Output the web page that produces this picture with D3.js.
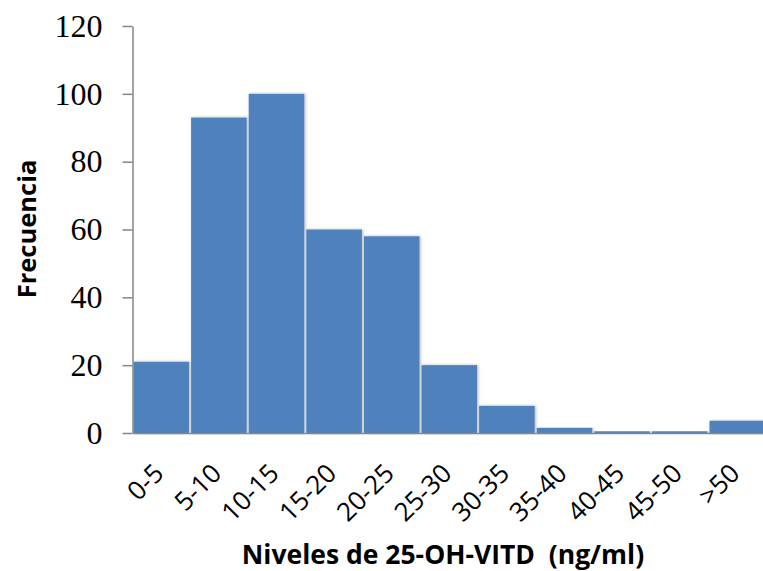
<!DOCTYPE html>
<html>
<head>
<meta charset="utf-8">
<script src="https://cdn.jsdelivr.net/npm/d3@7"></script>
<style>
  body { margin: 0; background: #fff; }
  .y.axis text { font-family: "Liberation Serif", serif; font-size: 32px; fill: #000; }
  .x.axis text { font-family: "Open Sans", sans-serif; font-size: 26px; fill: #000; }
  .axis path, .axis line { stroke: #868686; stroke-width: 1.5; }
  .label { font-family: "Open Sans", sans-serif; font-weight: bold; fill: #000; white-space: pre; }
</style>
</head>
<body>
<script>
var categories = ["0-5", "5-10", "10-15", "15-20", "20-25", "25-30", "30-35", "35-40", "40-45", "45-50", ">50"];
var frequencies = [21, 93, 100, 60, 58, 20, 8, 1.5, 0.5, 0.5, 3.6];
var yTicks = [0, 20, 40, 60, 80, 100, 120];

var width = 763, height = 571;
var plotLeft = 132.5, plotTop = 26, plotBottom = 433;
var step = 57.6;

var svg = d3.select("body").append("svg")
    .attr("width", width)
    .attr("height", height);

var defs = svg.append("defs");
var filter = defs.append("filter")
    .attr("id", "shadow")
    .attr("x", "-10%").attr("y", "-10%")
    .attr("width", "130%").attr("height", "130%");
filter.append("feDropShadow")
    .attr("dx", 1)
    .attr("dy", 0)
    .attr("stdDeviation", 1.5)
    .attr("flood-color", "#000")
    .attr("flood-opacity", 0.3);

var x = d3.scaleBand()
    .domain(categories)
    .range([plotLeft, plotLeft + step * categories.length])
    .paddingInner(0.035)
    .paddingOuter(0.0175);

var y = d3.scaleLinear()
    .domain([0, 120])
    .range([plotBottom, plotTop]);

svg.append("g")
    .selectAll("rect")
    .data(frequencies)
    .enter().append("rect")
    .attr("x", function(d, i) { return x(categories[i]); })
    .attr("y", function(d) { return y(d); })
    .attr("width", x.bandwidth())
    .attr("height", function(d) { return plotBottom - y(d); })
    .attr("fill", "#4f81bd")
    .attr("filter", "url(#shadow)");

var yAxis = d3.axisLeft(y)
    .tickValues(yTicks)
    .tickSize(10)
    .tickPadding(20)
    .tickSizeOuter(0);

svg.append("g")
    .attr("class", "y axis")
    .attr("transform", "translate(" + plotLeft + ",0)")
    .call(yAxis);

var xAxis = d3.axisBottom(x)
    .tickSize(0)
    .tickSizeOuter(0)
    .tickFormat("");

svg.append("g")
    .attr("class", "x axis")
    .attr("transform", "translate(0," + plotBottom + ")")
    .call(xAxis);

// rotated category labels
svg.append("g")
    .attr("class", "x axis")
    .selectAll("text")
    .data(categories)
    .enter().append("text")
    .attr("transform", function(d) {
        return "translate(" + (x(d) + x.bandwidth() / 2 + 4) + "," + (plotBottom + 42) + ") rotate(-45)";
    })
    .style("text-anchor", "end")
    .text(function(d) { return d; });

svg.append("text")
    .attr("class", "label")
    .attr("x", 443)
    .attr("y", 564)
    .style("font-size", "26.5px")
    .style("text-anchor", "middle")
    .text("Niveles de 25-OH-VITD  (ng/ml)");

svg.append("text")
    .attr("class", "label")
    .attr("transform", "translate(36,229) rotate(-90)")
    .style("font-size", "25.5px")
    .style("text-anchor", "middle")
    .text("Frecuencia");
</script>
</body>
</html>
